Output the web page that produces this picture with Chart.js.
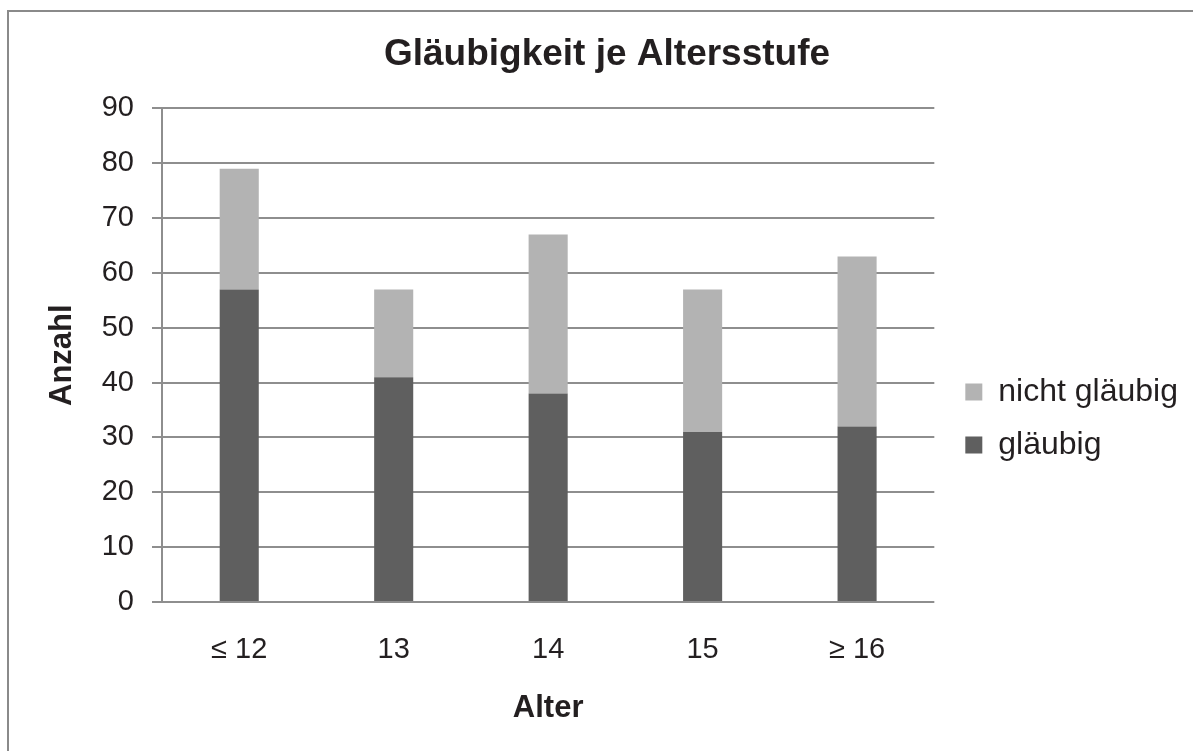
<!DOCTYPE html>
<html>
<head>
<meta charset="utf-8">
<script src="https://cdn.jsdelivr.net/npm/chart.js@4/dist/chart.umd.min.js"></script>
<style>
  html, body { margin: 0; padding: 0; background: #fff; }
  #wrap { position: relative; width: 1193px; height: 751px; overflow: hidden; }
  #frame { position: absolute; left: 7px; top: 10px; width: 1300px; height: 900px;
           border-left: 2px solid #8a8a8a; border-top: 2px solid #8a8a8a; }
  #chart { position: absolute; left: 0; top: 0; }
</style>
</head>
<body>
<div id="wrap">
  <div id="frame"></div>
  <canvas id="chart" width="1193" height="751"></canvas>
</div>
<script>
const categories = ['≤ 12', '13', '14', '15', '≥ 16'];
const glaeubig = [57, 41, 38, 31, 32];
const nichtGlaeubig = [22, 16, 29, 26, 31];
const yTicks = [0, 10, 20, 30, 40, 50, 60, 70, 80, 90];

const fontFamily = '"Liberation Sans", Arial, sans-serif';
const textColor = '#231f20';
const gridColor = '#8e8e8e';

// nudge legend and title a bit, chart.js puts them a little off
const boxShift = {
  id: 'boxShift',
  afterLayout(chart) {
    let legend = chart.legend;
    legend.left += 10;
    legend.right += 10;
    legend.top += 43;
    legend.bottom += 43;

    let title = chart.titleBlock;
    title.left += 18;
    title.right += 18;
  }
};

let ctx = document.getElementById('chart').getContext('2d');
let chart = new Chart(ctx, {
  type: 'bar',
  data: {
    labels: categories,
    datasets: [{
      label: 'gläubig',
      data: glaeubig,
      backgroundColor: '#5f5f5f'
    }, {
      label: 'nicht gläubig',
      data: nichtGlaeubig,
      backgroundColor: '#b3b3b3'
    }]
  },
  options: {
    responsive: false,
    animation: false,
    layout: { padding: { left: 0, right: 15, top: 0, bottom: 0 } },
    datasets: {
      bar: { barPercentage: 0.253, categoryPercentage: 1, borderWidth: 0 }
    },
    plugins: {
      title: {
        display: true,
        text: 'Gläubigkeit je Altersstufe',
        color: textColor,
        font: { family: fontFamily, size: 37, weight: 'bold' },
        padding: { top: 33, bottom: 31 }
      },
      legend: {
        position: 'right',
        reverse: true,
        labels: {
          color: textColor,
          boxWidth: 17,
          boxHeight: 17,
          padding: 21,
          font: { family: fontFamily, size: 32 }
        }
      },
      tooltip: { enabled: false }
    },
    scales: {
      x: {
        stacked: true,
        grid: { display: false },
        border: { display: false },
        ticks: {
          color: textColor,
          padding: 23,
          font: { family: fontFamily, size: 29 }
        },
        title: {
          display: true,
          text: 'Alter',
          color: textColor,
          font: { family: fontFamily, size: 31, weight: 'bold' },
          padding: { top: 0, bottom: 24 }
        },
        afterFit: scale => { scale.height = 149; }
      },
      y: {
        stacked: true,
        min: 0,
        max: 90,
        afterBuildTicks: scale => { scale.ticks = yTicks.map(v => ({ value: v })); },
        grid: { color: gridColor, lineWidth: 2, tickLength: 10 },
        border: { color: gridColor, width: 2 },
        ticks: {
          color: textColor,
          padding: 18,
          font: { family: fontFamily, size: 29 }
        },
        title: {
          display: true,
          text: 'Anzahl',
          color: textColor,
          font: { family: fontFamily, size: 31, weight: 'bold' },
          padding: { top: 44, bottom: 0 }
        },
        afterFit: scale => { scale.width = 162; }
      }
    }
  },
  plugins: [boxShift]
});
</script>
</body>
</html>
